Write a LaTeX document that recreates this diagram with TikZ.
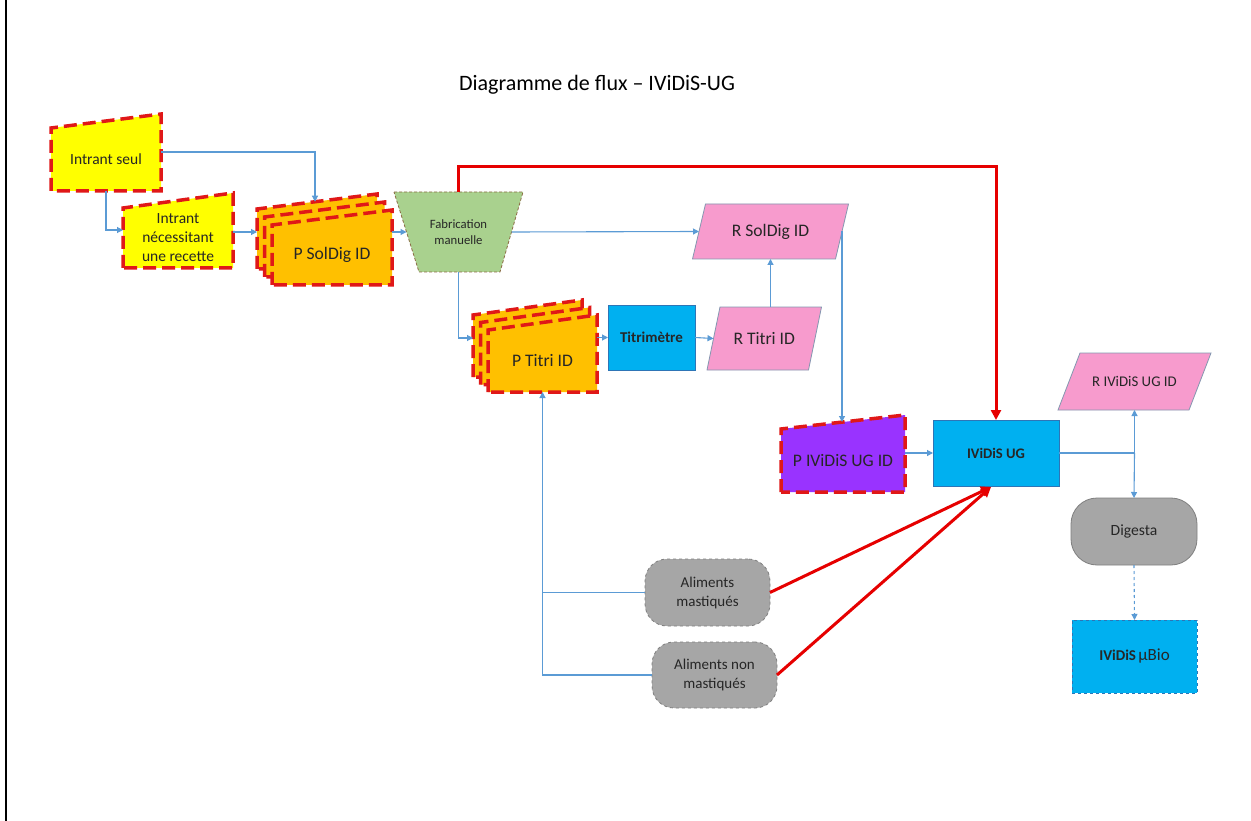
\documentclass[tikz,border=0pt]{standalone}
\usepackage{fontspec}
\setmainfont{Carlito}
\usetikzlibrary{arrows.meta,calc}
\pgfdeclarelayer{bg}
\pgfsetlayers{bg,main}
\definecolor{cyel}{HTML}{FFFF00}
\definecolor{corg}{HTML}{FFC000}
\definecolor{cdash}{HTML}{E01818}
\definecolor{cred}{HTML}{E60000}
\definecolor{cgrn}{HTML}{A9D18E}
\definecolor{cgrnb}{HTML}{8C6D46}
\definecolor{cpnk}{HTML}{F79BCD}
\definecolor{cpnkb}{HTML}{8497B0}
\definecolor{cblu}{HTML}{00B0F0}
\definecolor{cblub}{HTML}{2E75B6}
\definecolor{cpur}{HTML}{9933FF}
\definecolor{cgry}{HTML}{A6A6A6}
\definecolor{cgryb}{HTML}{7F7F7F}
\definecolor{cln}{HTML}{5B9BD5}
\definecolor{ctxt}{HTML}{262626}
\tikzset{
  bx/.style={inner sep=0pt, outer sep=0pt, align=center, text=ctxt},
  conn/.style={draw=cln, line width=1.1pt, -{Triangle[length=6pt,width=6pt]}},
  conn0/.style={draw=cln, line width=1.1pt},
  redarr/.style={draw=cred, line width=3pt, -{Triangle[length=10pt,width=10pt]}},
  rdash/.style={draw=cdash, line width=3.5pt, dash pattern=on 13pt off 6pt},
  bluebox/.style={bx, fill=cblu, draw=cblub, line width=0.8pt},
  pinkbox/.style={fill=cpnk, draw=cpnkb, line width=0.8pt},
  graybox/.style={bx, fill=cgry, draw=cgryb, line width=0.8pt},
}
\begin{document}
\begin{tikzpicture}[x=1pt,y=-1pt]
\begin{pgfonlayer}{bg}
\fill[white] (0,0) rectangle (1251,821);
\end{pgfonlayer}
\useasboundingbox (0,0) rectangle (1251,821);
\draw[line width=2pt] (5.7,0) -- (5.7,821);

% title
\node[bx, text=black, font=\fontsize{22}{26}\selectfont] (title) at (597,85) {Diagramme de flux – IViDiS-UG};

% nodes (text + reference boxes)
\node[bx, minimum width=110, minimum height=63, font=\fontsize{15.5}{19}\selectfont] (seul) at (106,159.5) {Intrant seul};
\node[bx, minimum width=110, minimum height=60, font=\fontsize{15.5}{19}\selectfont] (recette) at (178,238) {Intrant\\nécessitant\\une recette};
\node[bx, minimum width=120, minimum height=60, font=\fontsize{17.6}{21}\selectfont] (psol) at (332,255) {P SolDig ID};
\node[bx, minimum width=129, minimum height=80, font=\fontsize{12.7}{15.5}\selectfont] (fab) at (458.5,232) {Fabrication\\manuelle};
\node[bx, minimum width=143, minimum height=55, font=\fontsize{17.6}{21}\selectfont] (rsol) at (770.5,231.5) {R SolDig ID};
\node[bx, minimum width=109, minimum height=62, font=\fontsize{17.6}{21}\selectfont] (ptitri) at (542.5,361) {P Titri ID};
\node[bluebox, minimum width=87, minimum height=65, font=\fontsize{15}{18}\selectfont\bfseries] (titri) at (651.5,337.5) {Titrimètre};
\node[bx, minimum width=101.5, minimum height=63, font=\fontsize{17.6}{21}\selectfont] (rtitri) at (764.25,338.5) {R Titri ID};
\node[bx, minimum width=124, minimum height=63, font=\fontsize{17.6}{21}\selectfont] (pivid) at (843,460.5) {P IViDiS UG ID};
\node[bluebox, minimum width=126, minimum height=66, font=\fontsize{14.6}{18}\selectfont\bfseries] (ivid) at (996,453) {IViDiS UG};
\node[bx, minimum width=131, minimum height=57, font=\fontsize{14.8}{18}\selectfont] (rivid) at (1134.5,381.5) {R IViDiS UG ID};
\node[graybox, rounded corners=26pt, minimum width=126, minimum height=67, font=\fontsize{15.6}{19}\selectfont] (digesta) at (1134,531.5) {Digesta};
\node[bluebox, dashed, minimum width=125, minimum height=73] (mubio) at (1134.5,656.5) {{\fontsize{15}{18}\selectfont\bfseries IViDiS} {\fontsize{17}{20}\selectfont µBio}};
\node[graybox, dashed, rounded corners=22pt, minimum width=125, minimum height=67, font=\fontsize{15}{19}\selectfont] (alim1) at (707.5,592.5) {Aliments\\mastiqués};
\node[graybox, dashed, rounded corners=22pt, minimum width=125, minimum height=66, font=\fontsize{15}{19}\selectfont] (alim2) at (714.5,675) {Aliments non\\mastiqués};

% shapes on background layer
\begin{pgfonlayer}{bg}
\path[fill=cyel, rdash] (seul.south west) -- (seul.north west) -- ($(seul.north east)+(0,-14)$) -- (seul.south east) -- cycle;
\path[fill=cyel, rdash] (recette.south west) -- (recette.north west) -- ($(recette.north east)+(0,-15)$) -- (recette.south east) -- cycle;
\foreach \d in {2,1,0} {
  \path[fill=corg, rdash] ($(psol.south west)+(-7.5*\d,-8*\d)$) -- ($(psol.north west)+(-7.5*\d,-8*\d)$) -- ($(psol.north east)+(-7.5*\d,-8*\d-15)$) -- ($(psol.south east)+(-7.5*\d,-8*\d)$) -- cycle;
  \path[fill=corg, rdash] ($(ptitri.south west)+(-7.5*\d,-7.5*\d)$) -- ($(ptitri.north west)+(-7.5*\d,-7.5*\d)$) -- ($(ptitri.north east)+(-7.5*\d,-7.5*\d-15)$) -- ($(ptitri.south east)+(-7.5*\d,-7.5*\d)$) -- cycle;
}
\path[fill=cpur, rdash] (pivid.south west) -- (pivid.north west) -- ($(pivid.north east)+(0,-14)$) -- (pivid.south east) -- cycle;
\path[fill=cgrn, draw=cgrnb, line width=0.8pt, dash pattern=on 3pt off 2pt] (fab.north west) -- (fab.north east) -- ($(fab.south east)+(-23,0)$) -- ($(fab.south west)+(25,0)$) -- cycle;
\path[pinkbox] ($(rsol.north west)+(6.5,0)$) -- ($(rsol.north east)+(6.5,0)$) -- ($(rsol.south east)+(-6.5,0)$) -- ($(rsol.south west)+(-6.5,0)$) -- cycle;
\path[pinkbox] ($(rtitri.north west)+(6.5,0)$) -- ($(rtitri.north east)+(6.5,0)$) -- ($(rtitri.south east)+(-6.5,0)$) -- ($(rtitri.south west)+(-6.5,0)$) -- cycle;
\path[pinkbox] ($(rivid.north west)+(11,0)$) -- ($(rivid.north east)+(11,0)$) -- ($(rivid.south east)+(-11,0)$) -- ($(rivid.south west)+(-11,0)$) -- cycle;
\end{pgfonlayer}

% helper coordinates
\coordinate (psoltop) at ($(psol.north west)+(43,-23.25)$);
\coordinate (psolin) at ($(psol.west)+(-15,-23)$);
\coordinate (recin) at ($(recette.west)+(0,-8)$);
\coordinate (fabin) at ($(fab.west)+(12.5,0)$);
\coordinate (fabout) at ($(fab.east)+(-11.5,0)$);
\coordinate (ptin) at ($(ptitri.west)+(-15,-23)$);
\coordinate (pivin) at ($(pivid.north)+(0,-7)$);
\coordinate (junc) at (ivid.east -| rivid.south);
\coordinate (ivin) at ($(ivid.south)+(-5,1)$);

% blue connectors
\draw[conn] ($(seul.east)+(0,-7.5)$) -| (psoltop);
\draw[conn] (seul.south) |- (recin);
\draw[conn] (psolin -| recette.east) -- (psolin);
\draw[conn] (fabin -| psol.east) -- (fabin);
\draw[conn] (fabout) -- (rsol.west);
\draw[conn] (fab.south) |- (ptin);
\draw[conn] (titri.west -| ptitri.east) -- (titri.west);
\draw[conn] (titri.east) -- (rtitri.west);
\draw[conn] (rsol.south |- rtitri.north) -- (rsol.south);
\draw[conn] (rsol.east) -- (rsol.east |- pivin);
\draw[conn] (ivid.west -| pivid.east) -- (ivid.west);
\draw[conn0] (ivid.east) -- (junc);
\draw[conn] (junc) -- (rivid.south);
\draw[conn] (junc) -- (digesta.north);
\draw[conn, dashed] (digesta.south) -- (mubio.north);
\draw[conn] (alim2.west) -| (ptitri.south);
\draw[conn0] (alim1.west) -- (alim1.west -| ptitri.south);

% red connectors
\draw[redarr] (fab.north) -- ++(0,-25) -| (ivid.north);
\draw[redarr] (alim1.east) -- (ivin);
\draw[redarr] (alim2.east) -- (ivin);
\end{tikzpicture}
\end{document}
